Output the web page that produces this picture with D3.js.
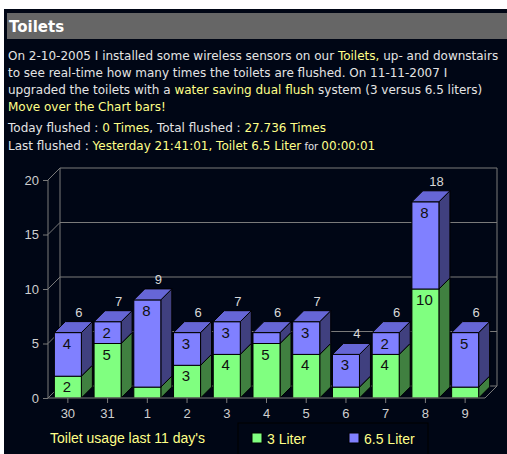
<!DOCTYPE html>
<html>
<head>
<meta charset="utf-8">
<script src="https://cdn.jsdelivr.net/npm/d3@7"></script>
<style>
  html, body { margin: 0; padding: 0; background: #fff; }
  svg { display: block; }
</style>
</head>
<body>
<div id="chart"></div>
<script>
// chart data
var days = ['30', '31', '1', '2', '3', '4', '5', '6', '7', '8', '9'];
var liter3 = [2, 5, 1, 3, 4, 5, 4, 1, 4, 10, 1];
var liter65 = [4, 2, 8, 3, 3, 1, 3, 3, 2, 8, 5];
var yTicks = [0, 5, 10, 15, 20];
var seriesNames = ['3 Liter', '6.5 Liter'];

// intro text, [text, highlighted]
var introLines = [
    [['On 2-10-2005 I installed some wireless sensors on our ', 0], ['Toilets,', 1], [' up- and downstairs', 0]],
    [['to see real-time how many times the toilets are flushed. On 11-11-2007 I', 0]],
    [['upgraded the toilets with a ', 0], ['water saving dual flush', 1], [' system (3 versus 6.5 liters)', 0]],
    [['Move over the Chart bars!', 1]]
];
var statusLines = [
    [['Today flushed : ', 0], ['0 Times', 1], [', Total flushed : ', 0], ['27.736 Times', 1]],
    [['Last flushed : ', 0], ['Yesterday 21:41:01, Toilet 6.5 Liter', 1], [' for ', 2], ['00:00:01', 1]]
];

var W = 507, H = 454;
var bg = '#000615';
var yellow = '#ffff88';
var colors = {
    green: { front: '#80ff80', top: '#66cc66', side: '#408040' },
    blue: { front: '#8080ff', top: '#6666d6', side: '#40407f' }
};

var svg = d3.select('#chart').append('svg')
    .attr('width', W)
    .attr('height', H);

svg.append('rect').attr('x', 4).attr('y', 9).attr('width', W - 4).attr('height', H - 9).attr('fill', bg);
svg.append('rect').attr('x', 7).attr('y', 13).attr('width', W - 7).attr('height', 26).attr('fill', '#666666');
svg.append('text').attr('x', 9).attr('y', 32)
    .attr('font-family', 'DejaVu Sans, Verdana, sans-serif')
    .attr('font-size', 15).attr('font-weight', 'bold').attr('fill', '#ffffff')
    .text('Toilets');

function writeLines(lines, y0, step) {
    lines.forEach(function (parts, i) {
        var t = svg.append('text')
            .attr('x', 8).attr('y', y0 + i * step)
            .attr('font-family', 'DejaVu Sans, Verdana, sans-serif')
            .attr('font-size', 12);
        parts.forEach(function (p) {
            t.append('tspan')
                .attr('fill', p[1] === 1 ? yellow : '#e4e4e4')
                .attr('font-size', p[1] === 2 ? 10 : 12)
                .text(p[0]);
        });
    });
}
writeLines(introLines, 59.5, 17);
writeLines(statusLines, 131.5, 18);

// chart
var dx = 11, dy = -11, wx = 12, wy = -12;
var x = d3.scaleBand().domain(days).range([48, 485]).paddingInner(0.32).paddingOuter(0.16);
var y = d3.scaleLinear().domain([0, 20]).range([398, 180]);
var gridColor = '#7a7a7a';

var g = svg.append('g');

// back wall grid
yTicks.forEach(function (v) {
    if (v > 0) {
        g.append('line').attr('x1', 48 + wx).attr('x2', 485 + wx)
            .attr('y1', y(v) + wy).attr('y2', y(v) + wy)
            .attr('stroke', gridColor);
    }
    g.append('line').attr('x1', 48).attr('x2', 48 + wx)
        .attr('y1', y(v)).attr('y2', y(v) + wy)
        .attr('stroke', gridColor);
});
g.append('line').attr('x1', 48 + wx).attr('x2', 48 + wx).attr('y1', y(20) + wy).attr('y2', y(0) + wy).attr('stroke', gridColor);
g.append('line').attr('x1', 485 + wx).attr('x2', 485 + wx).attr('y1', y(20) + wy).attr('y2', y(0) + wy).attr('stroke', gridColor);
g.append('line').attr('x1', 48 + wx).attr('x2', 485 + wx).attr('y1', y(0) + wy).attr('y2', y(0) + wy).attr('stroke', gridColor);
g.append('line').attr('x1', 485).attr('x2', 485 + wx).attr('y1', y(0)).attr('y2', y(0) + wy).attr('stroke', gridColor);

// axes
var yAxis = d3.axisLeft(y).tickValues(yTicks).tickSize(5).tickPadding(4);
var ax = svg.append('g').attr('transform', 'translate(48,0)').call(yAxis);
var xAxis = d3.axisBottom(x).tickSize(5).tickPadding(6);
var bx = svg.append('g').attr('transform', 'translate(0,' + y(0) + ')').call(xAxis);
[ax, bx].forEach(function (a) {
    a.selectAll('path, line').attr('stroke', gridColor);
    a.selectAll('text').attr('fill', '#cfcfcf')
        .attr('font-family', 'Liberation Sans, Arial, sans-serif')
        .attr('font-size', 13);
});
ax.select('.domain').attr('d', 'M0,' + y(20) + 'V' + y(0));
bx.select('.domain').attr('d', 'M48,0H485');

// stacked 3D bars
var stacked = days.map(function (d, i) {
    return { day: d, segs: [
        { v0: 0, v1: liter3[i], val: liter3[i], c: colors.green },
        { v0: liter3[i], v1: liter3[i] + liter65[i], val: liter65[i], c: colors.blue }
    ], total: liter3[i] + liter65[i] };
});

var bars = g.selectAll('g.bar').data(stacked).enter().append('g').attr('class', 'bar');
bars.each(function (d) {
    var sel = d3.select(this);
    var x0 = x(d.day), bw = x.bandwidth();
    d.segs.forEach(function (s, k) {
        var yt = y(s.v1), yb = y(s.v0);
        // side
        sel.append('path')
            .attr('d', 'M' + (x0 + bw) + ',' + yb + 'L' + (x0 + bw + dx) + ',' + (yb + dy) +
                'L' + (x0 + bw + dx) + ',' + (yt + dy) + 'L' + (x0 + bw) + ',' + yt + 'Z')
            .attr('fill', s.c.side).attr('stroke', '#000').attr('stroke-width', 1);
        // front
        sel.append('rect').attr('x', x0).attr('y', yt).attr('width', bw).attr('height', yb - yt)
            .attr('fill', s.c.front).attr('stroke', '#000').attr('stroke-width', 1);
        if (k === d.segs.length - 1) {
            sel.append('path')
                .attr('d', 'M' + x0 + ',' + yt + 'L' + (x0 + dx) + ',' + (yt + dy) +
                    'L' + (x0 + bw + dx) + ',' + (yt + dy) + 'L' + (x0 + bw) + ',' + yt + 'Z')
                .attr('fill', s.c.top).attr('stroke', '#000').attr('stroke-width', 1);
        }
        if (s.val >= 2) {
            sel.append('text').attr('x', x0 + bw / 2 - 1).attr('y', yt + 16)
                .attr('text-anchor', 'middle')
                .attr('font-family', 'Liberation Sans, Arial, sans-serif')
                .attr('font-size', 15).attr('fill', '#101010')
                .text(s.val);
        }
    });
    sel.append('text').attr('x', x0 + bw / 2 + dx).attr('y', y(d.total) + dy - 5)
        .attr('text-anchor', 'middle')
        .attr('font-family', 'Liberation Sans, Arial, sans-serif')
        .attr('font-size', 13).attr('fill', '#d8d8d8')
        .text(d.total);
});

// legend
svg.append('text').attr('x', 50).attr('y', 443)
    .attr('font-family', 'Liberation Sans, Arial, sans-serif')
    .attr('font-size', 14).attr('fill', yellow)
    .text("Toilet usage last 11 day's");
svg.append('rect').attr('x', 238).attr('y', 423).attr('width', 190).attr('height', 32)
    .attr('fill', bg).attr('stroke', '#000').attr('stroke-width', 1);
var leg = svg.selectAll('g.leg').data(seriesNames).enter().append('g').attr('class', 'leg')
    .attr('transform', function (d, i) { return 'translate(' + (252 + i * 97) + ',433)'; });
leg.append('rect').attr('width', 10).attr('height', 10)
    .attr('fill', function (d, i) { return i === 0 ? colors.green.front : colors.blue.front; })
    .attr('stroke', '#000');
leg.append('text').attr('x', 15).attr('y', 11)
    .attr('font-family', 'Liberation Sans, Arial, sans-serif')
    .attr('font-size', 14).attr('fill', yellow)
    .text(function (d) { return d; });
</script>
</body>
</html>
